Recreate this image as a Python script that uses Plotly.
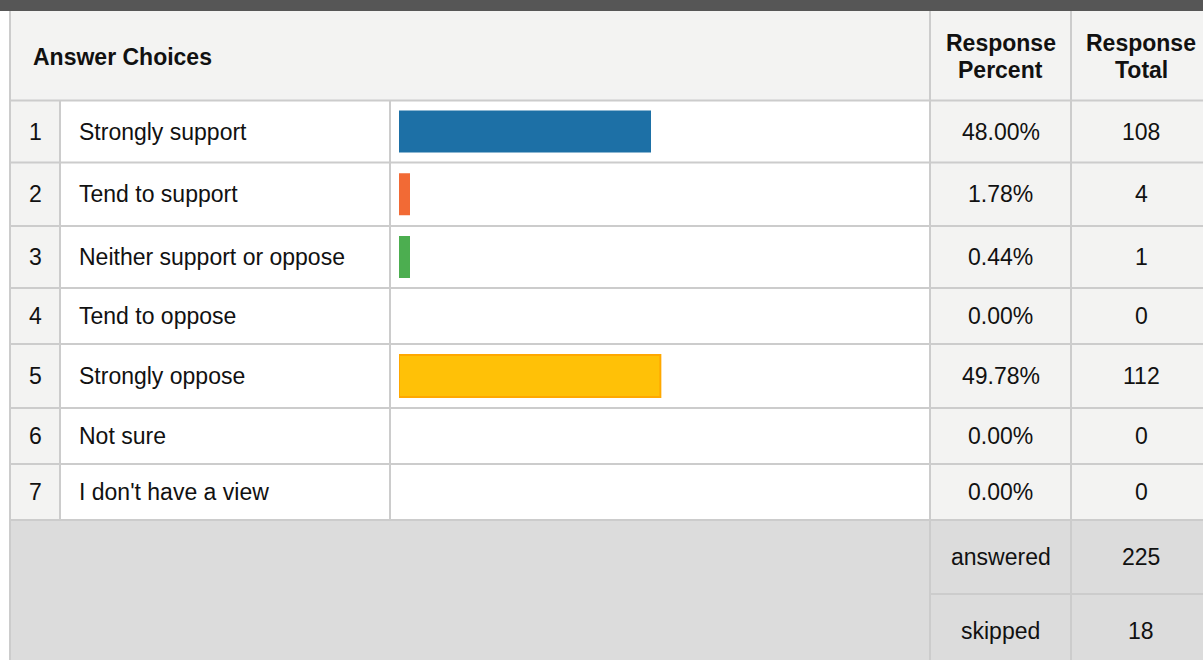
import plotly.graph_objects as go

# ---------------- data ----------------
numbers = ["1", "2", "3", "4", "5", "6", "7"]
choices = ["Strongly support", "Tend to support", "Neither support or oppose",
           "Tend to oppose", "Strongly oppose", "Not sure", "I don't have a view"]
percents = [48.00, 1.78, 0.44, 0.00, 49.78, 0.00, 0.00]
totals = [108, 4, 1, 0, 112, 0, 0]
answered = 225
skipped = 18
header_choices = "Answer Choices"
header_percent = ["Response", "Percent"]
header_total = ["Response", "Total"]

# ---------------- layout / style ----------------
W, H = 1203, 660
bar_colors = ["#1d70a6", "#f26a35", "#4cae50", "#4caf50", "#ffc107", "#999999", "#999999"]
bar_line_colors = ["#1d70a6", "#f26a35", "#4cae50", "#4caf50", "#ffa800", "#999999", "#999999"]
bar_line_widths = [0, 0, 0, 0, 2, 0, 0]
MIN_VISIBLE = 2.1  # minimum visible bar length (percent units) for non-zero answers
row_edges = [100.5, 162.5, 226, 288, 344, 408, 464, 520]
row_centers = [(a + b) / 2 for a, b in zip(row_edges[:-1], row_edges[1:])]
LINE = "#cccccc"
LIGHT = "#f3f3f2"
SUMMARY = "#dcdcdc"
FONT = "Liberation Sans, Arial, sans-serif"
TXT = "#111111"
FS = 23


def px(x):
    return x / W


def py(y):
    return 1 - y / H


shapes = []


def rect(x0, y0, x1, y1, fill):
    shapes.append(dict(type="rect", xref="paper", yref="paper", x0=px(x0), x1=px(x1),
                       y0=py(y1), y1=py(y0), fillcolor=fill, line=dict(width=0), layer="below"))


def line(x0, y0, x1, y1, color=LINE, width=2):
    shapes.append(dict(type="line", xref="paper", yref="paper", x0=px(x0), x1=px(x1),
                       y0=py(y0), y1=py(y1), line=dict(color=color, width=width), layer="below"))


# backgrounds
rect(0, 0, W, 11, "#565656")
rect(10, 11, W, row_edges[0], LIGHT)
rect(10, row_edges[0], 60, row_edges[-1], LIGHT)
rect(930, row_edges[0], W, row_edges[-1], LIGHT)
rect(10, row_edges[-1], W, H, SUMMARY)

# grid lines
for y in row_edges:
    line(10, y, W, y)
line(930, 594, W, 594)
line(10, 11, 10, H)
line(60, row_edges[0], 60, row_edges[-1])
line(390, row_edges[0], 390, row_edges[-1])
line(930, 11, 930, H)
line(1071, 11, 1071, H)

annotations = []


def text(x, y, s, anchor="center", bold=False, size=FS):
    annotations.append(dict(xref="paper", yref="paper", x=px(x), y=py(y), text=s,
                            showarrow=False, xanchor=anchor, yanchor="middle", align="center",
                            font=dict(family=FONT, size=size, color=TXT,
                                      weight="bold" if bold else "normal")))


text(31, 57, header_choices, anchor="left", bold=True)
text(1001, 43, header_percent[0], bold=True)
text(1001, 70, header_percent[1], bold=True)
text(1141, 43, header_total[0], bold=True)
text(1141, 70, header_total[1], bold=True)

for i in range(len(choices)):
    yc = row_centers[i]
    text(35, yc, numbers[i])
    text(77, yc, choices[i], anchor="left")
    text(1001, yc, f"{percents[i]:.2f}%")
    text(1141, yc, str(totals[i]))

text(1001, 557, "answered")
text(1141, 557, str(answered))
text(1001, 631, "skipped")
text(1141, 631, str(skipped))

bar_len = [0 if v == 0 else max(v, MIN_VISIBLE) for v in percents]

fig = go.Figure()
fig.add_trace(go.Bar(
    x=bar_len, y=row_centers, orientation="h", width=42,
    marker=dict(color=bar_colors, line=dict(color=bar_line_colors, width=bar_line_widths)),
    customdata=percents, hovertemplate="%{customdata:.2f}%<extra></extra>",
))

fig.update_layout(
    width=W, height=H, margin=dict(l=0, r=0, t=0, b=0),
    paper_bgcolor="white", plot_bgcolor="rgba(0,0,0,0)",
    showlegend=False,
    xaxis=dict(domain=[px(399), px(924)], range=[0, 100], visible=False, fixedrange=True),
    yaxis=dict(domain=[0, 1], range=[H, 0], visible=False, fixedrange=True),
    shapes=shapes, annotations=annotations,
)

fig.write_html("out.html", config={"displayModeBar": False},
               post_script="document.body.style.margin='0';document.body.style.overflow='hidden';")
